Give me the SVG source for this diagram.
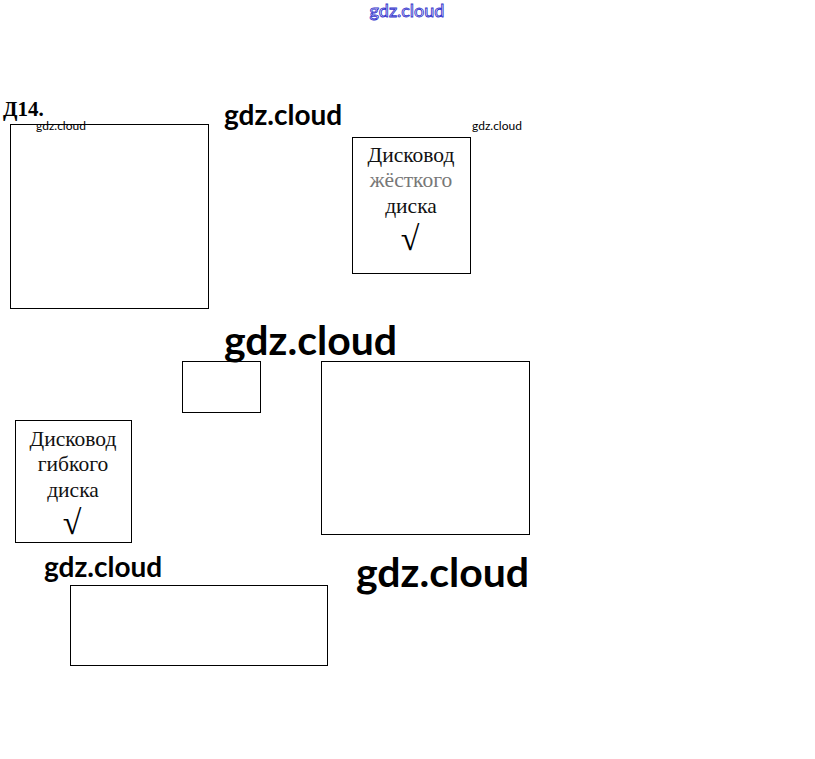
<svg xmlns="http://www.w3.org/2000/svg" width="815" height="759" viewBox="0 0 815 759">
<style>
.box{fill:none;stroke:#000;stroke-width:1}
.lbl{font-family:"Liberation Serif","DejaVu Serif",serif;font-size:21.5px;fill:#111;text-anchor:middle}
.chk{font-family:"Liberation Serif","DejaVu Serif",serif;font-size:34px;fill:#000;text-anchor:middle}
.wm{font-family:Lato,"Liberation Sans",sans-serif;font-weight:bold;fill:#000}
</style>
<rect width="815" height="759" fill="#fff"/>
<text x="407" y="17" class="wm" style="font-size:18px;fill:#fff;stroke:#3333cc;stroke-width:0.9;font-weight:normal" text-anchor="middle">gdz.cloud</text>
<text x="3" y="116" style="font-family:'Liberation Serif',serif;font-weight:bold;font-size:21px">Д14.</text>
<g id="box1"><rect class="box" x="10.5" y="124.5" width="198" height="184"/></g>
<g id="box2"><rect class="box" x="352.5" y="137.5" width="118" height="136"/>
<text class="lbl" x="411" y="162">Дисковод</text>
<text class="lbl" x="411" y="187" style="fill:#777">жёсткого</text>
<text class="lbl" x="411" y="213">диска</text>
<text class="chk" x="410" y="250">√</text></g>
<g id="box3"><rect class="box" x="182.5" y="361.5" width="78" height="51"/></g>
<g id="box4"><rect class="box" x="15.5" y="420.5" width="116" height="122"/>
<text class="lbl" x="73" y="446">Дисковод</text>
<text class="lbl" x="73" y="471">гибкого</text>
<text class="lbl" x="73" y="497">диска</text>
<text class="chk" x="72" y="534">√</text></g>
<g id="box5"><rect class="box" x="321.5" y="361.5" width="208" height="173"/></g>
<g id="box6"><rect class="box" x="70.5" y="585.5" width="257" height="80"/></g>
<g id="connectors"></g>
<text x="36" y="130" class="wm" style="font-size:12px;font-weight:normal">gdz.cloud</text>
<text x="472" y="130" class="wm" style="font-size:12px;font-weight:normal">gdz.cloud</text>
<text x="224" y="125" class="wm" style="font-size:28px">gdz.cloud</text>
<text x="224" y="355" class="wm" style="font-size:41px">gdz.cloud</text>
<text x="44" y="577" class="wm" style="font-size:28px">gdz.cloud</text>
<text x="356" y="587" class="wm" style="font-size:41px">gdz.cloud</text>
</svg>
